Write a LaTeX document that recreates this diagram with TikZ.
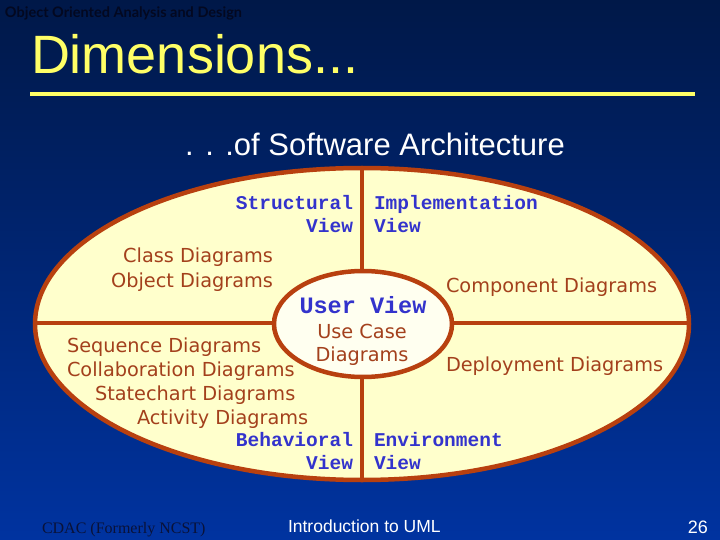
\documentclass[tikz,border=0pt]{standalone}
\usepackage{fontspec}
\setmainfont{Liberation Sans}
\newfontfamily\monofont{Liberation Mono}
\newfontfamily\verdfont{DejaVu Sans}
\newfontfamily\serffont{Liberation Serif}
\newfontfamily\headfont{Lato}
\definecolor{navytop}{HTML}{001848}
\definecolor{navybot}{HTML}{0033A0}
\definecolor{rim}{HTML}{B8400F}
\definecolor{cream}{HTML}{FFFFCC}
\definecolor{pale}{HTML}{FFFFF0}
\definecolor{brick}{HTML}{A3401C}
\definecolor{viewblue}{HTML}{3333CC}
\definecolor{titleyel}{HTML}{FFFF66}
\definecolor{darkink}{HTML}{0A1238}
\definecolor{headink}{HTML}{030820}
\tikzset{
 txt/.style={inner sep=0pt, outer sep=0pt},
 viewname/.style={txt, text=viewblue, font=\monofont\bfseries\fontsize{19.5}{23}\selectfont},
 diag/.style={txt, text=brick, font=\verdfont\fontsize{19.3}{24}\selectfont},
}
\begin{document}
\begin{tikzpicture}[x=1pt,y=-1pt]
\useasboundingbox (0,0) rectangle (720,540);
\shade[top color=navytop, bottom color=navybot] (0,0) rectangle (720,540);
% header and title
\node[txt, anchor=base west, text=headink, font=\headfont\bfseries\fontsize{14.5}{16}\selectfont] (head) at (5,18) {Object Oriented Analysis and Design};
\node[txt, anchor=base west, text=titleyel, font=\fontsize{54}{60}\selectfont] (title) at (31,74) {Dimensions...};
\draw[titleyel, line width=4pt] (30,94)--(695,94);
\node[txt, anchor=base, text=white, font=\fontsize{31}{36}\selectfont] (sub) at (375,156) {. . .of Software Architecture};
% the four views
\draw[rim, line width=4.5pt, fill=cream] (362,324) ellipse [x radius=327, y radius=156];
\draw[rim, line width=4.5pt] (362,168)--(362,480);
\draw[rim, line width=4.5pt] (35,323)--(689,323);
\draw[rim, line width=4.5pt, fill=pale] (363,324) ellipse [x radius=89, y radius=53];
\node[viewname, anchor=base east] (struct) at (353,210) {Structural};
\node[viewname, anchor=base east] (structv) at (353,233) {View};
\node[viewname, anchor=base west] (impl) at (374,210) {Implementation};
\node[viewname, anchor=base west] (implv) at (374,233) {View};
\node[viewname, anchor=base east] (behav) at (353,446) {Behavioral};
\node[viewname, anchor=base east] (behavv) at (353,469) {View};
\node[viewname, anchor=base west] (envir) at (374,446) {Environment};
\node[viewname, anchor=base west] (envirv) at (374,469) {View};
\node[viewname, anchor=base, font=\monofont\bfseries\fontsize{23.5}{26}\selectfont] (user) at (363,313) {User View};
% diagram lists
\node[diag, anchor=base] (usecase) at (362,338) {Use Case};
\node[diag, anchor=base] (usecased) at (362,361) {Diagrams};
\node[diag, anchor=base east] (class) at (273,262) {Class Diagrams};
\node[diag, anchor=base east] (object) at (273,287) {Object Diagrams};
\node[diag, anchor=base west] (compo) at (446,292) {Component Diagrams};
\node[diag, anchor=base west] (deploy) at (446,371) {Deployment Diagrams};
\foreach \nm/\x/\y/\t in {seq/67/352/Sequence Diagrams, collab/67/376/Collaboration Diagrams,
 state/95/400/Statechart Diagrams, activ/137/424/Activity Diagrams}
 \node[diag, anchor=base west] (\nm) at (\x,\y) {\t};
% footer
\node[txt, anchor=base west, text=darkink, font=\serffont\fontsize{16}{18}\selectfont] (cdac) at (42,533) {CDAC (Formerly NCST)};
\node[txt, anchor=base west, text=white, font=\fontsize{17.5}{20}\selectfont] (intro) at (288,532) {Introduction to UML};
\node[txt, anchor=base east, text=white, font=\fontsize{18}{20}\selectfont] (page) at (708,533) {26};
\end{tikzpicture}
\end{document}
